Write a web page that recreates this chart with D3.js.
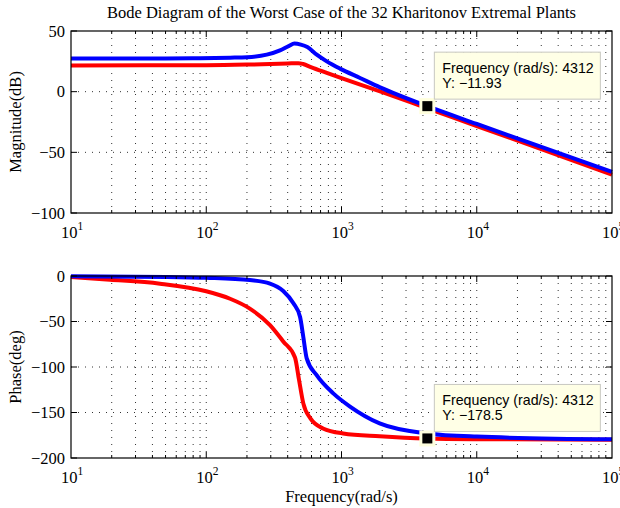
<!DOCTYPE html>
<html>
<head>
<meta charset="utf-8">
<title>Bode Diagram</title>
<script src="https://d3js.org/d3.v7.min.js"></script>
<style>
body {margin:0; background:white;}
svg {display:block;}
.serif {font-family:"Liberation Serif","Times New Roman",serif; fill:#000;}
.tip {font-family:"Liberation Sans",Arial,sans-serif; font-size:14.2px; fill:#000;}
</style>
</head>
<body>
<svg width="620" height="508"></svg>
<script>
// frequency decades on the x axis (rad/s)
var freqTicks = [10, 100, 1000, 10000, 100000];
var magTicks = [50, 0, -50, -100];
var phaseTicks = [0, -50, -100, -150, -200];

// magnitude (dB)
var blueMagW  = [10, 50, 90, 150, 200, 280, 351, 410, 448, 500, 559, 656, 778, 975, 1371, 1928, 4312, 10000, 100000];
var blueMagDb = [27.3, 27.4, 27.6, 28.0, 28.4, 30.5, 34.1, 37.8, 39.6, 38.8, 36.8, 30.5, 25.0, 19.0, 11.3, 3.6, -11.93, -26.6, -66.2];
var redMagW   = [10, 100, 200, 300, 400, 480, 520, 600, 778, 1000, 1928, 4312, 10000, 100000];
var redMagDb  = [21.6, 21.8, 22.3, 22.8, 23.2, 23.5, 22.8, 20.0, 15.5, 11.2, 0.3, -13.7, -28.3, -68.4];

// phase (deg)
var bluePhW   = [10, 50, 100, 210, 296, 371, 441, 494, 522, 553, 655, 869, 1156, 1915, 4312, 10000, 100000];
var bluePhDeg = [-0.2, -1, -2, -4.5, -8.4, -16.5, -30, -45, -67, -90.5, -109, -129, -143.5, -162, -173, -176.5, -179.5];
var redPhW    = [10, 19.4, 45.5, 100, 150, 210, 296, 371, 453, 485, 522, 589, 730, 1029, 1915, 4312, 10000, 100000];
var redPhDeg  = [-1.2, -4, -8.4, -16.8, -25, -35.8, -54, -72, -89.5, -114, -140, -156.5, -167.5, -173, -176, -178.5, -179.3, -179.9];

// data tips
var tipW = 4312;
var tipMag = -11.93;
var tipPhase = -178.5;

var svg = d3.select("svg");
var left = 71, right = 612;

var x = d3.scaleLog().domain([10, 100000]).range([left, right]);
var yMag = d3.scaleLinear().domain([-100, 50]).range([213, 31]);
var yPh = d3.scaleLinear().domain([-200, 0]).range([458, 276]);

var minor = [];
freqTicks.slice(0, 4).forEach(function(d) {
  for (var k = 2; k <= 9; k++) minor.push(d * k);
});
var innerMajor = freqTicks.slice(1, 4);

function fmt(v) { return String(v).replace("-", "\u2212"); }

function panel(y, yTicks, curves, tipY, tipText, yTitle) {
  var top = y.range()[1], bot = y.range()[0];
  var g = svg.append("g");

  // dotted grid
  g.selectAll(".vg").data(minor.concat(innerMajor)).enter().append("line")
    .attr("x1", function(d) { return x(d); }).attr("x2", function(d) { return x(d); })
    .attr("y1", top).attr("y2", bot)
    .attr("stroke", "#333").attr("stroke-width", 1).attr("stroke-dasharray", "1,6");
  g.selectAll(".hg").data(yTicks.slice(1, -1)).enter().append("line")
    .attr("x1", left).attr("x2", right)
    .attr("y1", function(d) { return y(d); }).attr("y2", function(d) { return y(d); })
    .attr("stroke", "#333").attr("stroke-width", 1).attr("stroke-dasharray", "1,6");

  // curves: red under blue
  var line = d3.line()
    .x(function(d) { return x(d[0]); })
    .y(function(d) { return y(d[1]); })
    .curve(d3.curveMonotoneX);
  curves.forEach(function(c) {
    g.append("path")
      .datum(d3.zip(c.w, c.v))
      .attr("fill", "none").attr("stroke", c.color)
      .attr("stroke-width", 4).attr("stroke-linejoin", "round")
      .attr("d", line);
  });

  // box and ticks
  var ax = g.append("g");
  ax.append("rect").attr("x", left).attr("y", top)
    .attr("width", right - left).attr("height", bot - top)
    .attr("fill", "none").attr("stroke", "#000").attr("stroke-width", 1.2);
  [[top, 1], [bot, -1]].forEach(function(p) {
    ax.selectAll(null).data(minor).enter().append("line")
      .attr("x1", function(d) { return x(d); }).attr("x2", function(d) { return x(d); })
      .attr("y1", p[0]).attr("y2", p[0] + p[1] * 3)
      .attr("stroke", "#000");
    ax.selectAll(null).data(innerMajor).enter().append("line")
      .attr("x1", function(d) { return x(d); }).attr("x2", function(d) { return x(d); })
      .attr("y1", p[0]).attr("y2", p[0] + p[1] * 6)
      .attr("stroke", "#000");
  });
  [[left, 1], [right, -1]].forEach(function(p) {
    ax.selectAll(null).data(yTicks).enter().append("line")
      .attr("x1", p[0]).attr("x2", p[0] + p[1] * 6)
      .attr("y1", function(d) { return y(d); }).attr("y2", function(d) { return y(d); })
      .attr("stroke", "#000");
  });

  // tick labels
  g.selectAll(".yl").data(yTicks).enter().append("text")
    .attr("class", "serif").attr("font-size", 16.5)
    .attr("x", left - 6).attr("y", function(d) { return y(d) + 5.5; })
    .attr("text-anchor", "end").text(fmt);
  var xl = g.selectAll(".xl").data(freqTicks).enter().append("text")
    .attr("class", "serif").attr("font-size", 16.5)
    .attr("x", function(d) { return x(d) + 1; }).attr("y", bot + 25)
    .attr("text-anchor", "middle");
  xl.append("tspan").text("10");
  xl.append("tspan").attr("font-size", 11.5).attr("dy", -8)
    .text(function(d) { return Math.round(Math.log10(d)); });

  // y axis title
  svg.append("text").attr("class", "serif").attr("font-size", 16.5)
    .attr("transform", "translate(21," + ((top + bot) / 2) + ") rotate(-90)")
    .attr("text-anchor", "middle").text(yTitle);

  // data tip
  var mx = x(tipW), my = y(tipY);
  var tip = svg.append("g");
  tip.append("rect").attr("x", mx - 8).attr("y", my - 8).attr("width", 16).attr("height", 16)
    .attr("fill", "#ffffdd");
  tip.append("rect").attr("x", mx - 5).attr("y", my - 5).attr("width", 10).attr("height", 10)
    .attr("fill", "#000");
  tip.append("rect").attr("x", mx + 7).attr("y", my - 54).attr("width", 166).attr("height", 47)
    .attr("fill", "#ffffe6").attr("stroke", "#c8c8c0").attr("stroke-width", 1);
  tip.append("text").attr("class", "tip").attr("x", mx + 15).attr("y", my - 33)
    .text("Frequency (rad/s): " + tipW);
  tip.append("text").attr("class", "tip").attr("x", mx + 15).attr("y", my - 18)
    .text("Y: " + tipText);
}

panel(yMag, magTicks,
  [{w: redMagW, v: redMagDb, color: "#ff0000"}, {w: blueMagW, v: blueMagDb, color: "#0000ff"}],
  tipMag, fmt(tipMag), "Magnitude(dB)");
panel(yPh, phaseTicks,
  [{w: redPhW, v: redPhDeg, color: "#ff0000"}, {w: bluePhW, v: bluePhDeg, color: "#0000ff"}],
  tipPhase, fmt(tipPhase), "Phase(deg)");

svg.append("text").attr("class", "serif").attr("font-size", 16.5)
  .attr("x", (left + right) / 2).attr("y", 18).attr("text-anchor", "middle")
  .text("Bode Diagram of the Worst Case of the 32 Kharitonov Extremal Plants");
svg.append("text").attr("class", "serif").attr("font-size", 16.5)
  .attr("x", (left + right) / 2).attr("y", 502).attr("text-anchor", "middle")
  .text("Frequency(rad/s)");
</script>
</body>
</html>
